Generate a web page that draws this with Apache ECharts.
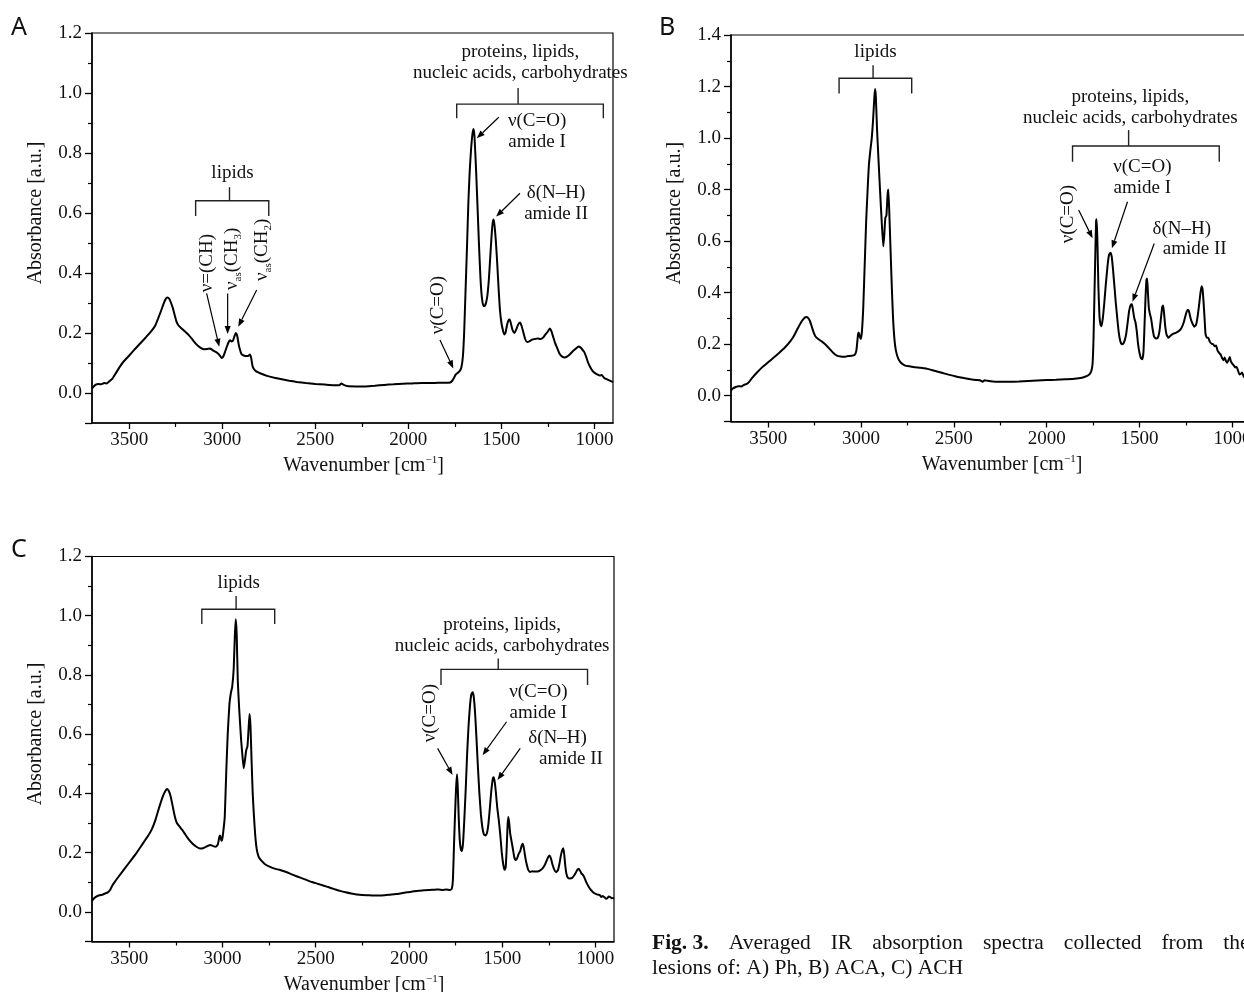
<!DOCTYPE html>
<html>
<head>
<meta charset="utf-8">
<title>Averaged IR absorption spectra</title>
<script src="https://cdn.jsdelivr.net/npm/echarts@6/dist/echarts.min.js"></script>
<style>
  html, body { margin: 0; padding: 0; background: #fff; }
  #chart { width: 1244px; height: 992px; }
</style>
</head>
<body>
<div id="chart"></div>
<script>
// spectra: [wavenumber cm-1, absorbance a.u.]
const spectrumA = [
    [3700, 0.015], [3690, 0.022], [3680, 0.028], [3665, 0.030], [3650, 0.029], [3635, 0.033],
    [3620, 0.032], [3605, 0.040], [3590, 0.048], [3570, 0.068], [3550, 0.088], [3530, 0.105],
    [3500, 0.125], [3470, 0.146], [3440, 0.166], [3410, 0.186], [3380, 0.207], [3360, 0.225],
    [3345, 0.248], [3330, 0.272], [3315, 0.298], [3305, 0.312], [3295, 0.318], [3285, 0.314],
    [3275, 0.300], [3265, 0.282], [3255, 0.258], [3245, 0.236], [3235, 0.225], [3220, 0.216],
    [3200, 0.205], [3180, 0.193], [3160, 0.178], [3140, 0.163], [3120, 0.152], [3100, 0.146],
    [3080, 0.147], [3065, 0.148], [3050, 0.142], [3035, 0.137], [3020, 0.130], [3010, 0.122],
    [3003, 0.117], [2995, 0.121], [2985, 0.137], [2975, 0.155], [2965, 0.170], [2958, 0.176],
    [2950, 0.172], [2942, 0.175], [2935, 0.188], [2927, 0.200], [2920, 0.192], [2912, 0.163],
    [2905, 0.145], [2897, 0.130], [2885, 0.125], [2870, 0.123], [2860, 0.124], [2852, 0.128],
    [2845, 0.118], [2838, 0.092], [2830, 0.080], [2815, 0.071], [2790, 0.064], [2760, 0.057],
    [2720, 0.051], [2680, 0.046], [2640, 0.041], [2600, 0.037], [2550, 0.033], [2500, 0.030],
    [2450, 0.028], [2400, 0.026], [2370, 0.026], [2360, 0.032], [2350, 0.028], [2330, 0.023],
    [2280, 0.022], [2230, 0.022], [2180, 0.024], [2130, 0.027], [2080, 0.029], [2030, 0.031],
    [1980, 0.032], [1930, 0.033], [1880, 0.033], [1840, 0.034], [1800, 0.034], [1775, 0.035],
    [1765, 0.040], [1755, 0.050], [1745, 0.062], [1737, 0.066], [1725, 0.072], [1715, 0.085],
    [1707, 0.120], [1700, 0.200], [1693, 0.330], [1685, 0.480], [1677, 0.640], [1670, 0.740],
    [1663, 0.810], [1656, 0.860], [1650, 0.880], [1645, 0.860], [1640, 0.800], [1635, 0.730],
    [1628, 0.620], [1620, 0.490], [1612, 0.380], [1605, 0.320], [1597, 0.290], [1590, 0.290],
    [1582, 0.302], [1575, 0.325], [1567, 0.380], [1560, 0.450], [1553, 0.520], [1547, 0.565],
    [1542, 0.578], [1537, 0.560], [1530, 0.510], [1522, 0.430], [1515, 0.350], [1508, 0.280],
    [1500, 0.235], [1492, 0.210], [1485, 0.195], [1478, 0.200], [1470, 0.225], [1462, 0.242],
    [1455, 0.245], [1448, 0.230], [1440, 0.210], [1430, 0.200], [1420, 0.212], [1410, 0.228],
    [1400, 0.235], [1392, 0.225], [1383, 0.205], [1372, 0.180], [1362, 0.170], [1350, 0.172],
    [1335, 0.178], [1320, 0.180], [1305, 0.182], [1290, 0.180], [1275, 0.185], [1262, 0.196],
    [1250, 0.205], [1240, 0.215], [1232, 0.208], [1222, 0.188], [1212, 0.168], [1200, 0.150],
    [1188, 0.132], [1175, 0.122], [1160, 0.118], [1145, 0.122], [1130, 0.130], [1115, 0.140],
    [1100, 0.148], [1085, 0.155], [1075, 0.152], [1065, 0.145], [1055, 0.137], [1045, 0.122],
    [1035, 0.103], [1022, 0.086], [1010, 0.074], [1000, 0.068], [985, 0.062], [970, 0.058],
    [960, 0.060], [950, 0.052], [935, 0.046], [920, 0.042], [905, 0.038], [900, 0.036]
];

const spectrumB = [
    [3700, 0.020], [3690, 0.028], [3675, 0.034], [3660, 0.037], [3645, 0.036], [3630, 0.042],
    [3615, 0.046], [3600, 0.056], [3585, 0.070], [3560, 0.090], [3530, 0.112], [3500, 0.130],
    [3470, 0.148], [3440, 0.167], [3410, 0.187], [3380, 0.212], [3360, 0.234], [3340, 0.262],
    [3320, 0.288], [3305, 0.302], [3295, 0.306], [3285, 0.302], [3275, 0.290], [3265, 0.268],
    [3255, 0.246], [3245, 0.230], [3230, 0.220], [3210, 0.210], [3190, 0.198], [3170, 0.183],
    [3150, 0.167], [3130, 0.156], [3110, 0.152], [3090, 0.151], [3070, 0.154], [3050, 0.155],
    [3035, 0.158], [3025, 0.175], [3016, 0.238], [3012, 0.245], [3006, 0.228], [3001, 0.220],
    [2995, 0.250], [2988, 0.340], [2980, 0.510], [2972, 0.680], [2965, 0.790], [2958, 0.890],
    [2950, 0.950], [2942, 1.000], [2935, 1.070], [2928, 1.160], [2924, 1.190], [2920, 1.160],
    [2914, 1.040], [2906, 0.920], [2897, 0.790], [2888, 0.670], [2880, 0.580], [2875, 0.620],
    [2869, 0.690], [2863, 0.700], [2857, 0.780], [2853, 0.800], [2848, 0.720], [2842, 0.590],
    [2835, 0.440], [2828, 0.310], [2820, 0.220], [2812, 0.175], [2800, 0.145], [2785, 0.128],
    [2765, 0.118], [2740, 0.114], [2710, 0.111], [2680, 0.109], [2650, 0.106], [2620, 0.100],
    [2590, 0.094], [2560, 0.088], [2530, 0.082], [2500, 0.077], [2470, 0.072], [2440, 0.068],
    [2410, 0.064], [2380, 0.061], [2360, 0.060], [2345, 0.054], [2335, 0.060], [2320, 0.058],
    [2290, 0.055], [2260, 0.054], [2230, 0.054], [2200, 0.054], [2150, 0.055], [2100, 0.057],
    [2050, 0.059], [2000, 0.061], [1950, 0.062], [1900, 0.064], [1850, 0.066], [1810, 0.070],
    [1785, 0.076], [1770, 0.083], [1760, 0.095], [1753, 0.125], [1748, 0.220], [1743, 0.390],
    [1738, 0.560], [1734, 0.680], [1731, 0.685], [1727, 0.600], [1722, 0.430], [1716, 0.310],
    [1710, 0.275], [1705, 0.270], [1698, 0.300], [1690, 0.360], [1682, 0.430], [1673, 0.500],
    [1665, 0.545], [1657, 0.555], [1650, 0.540], [1643, 0.490], [1636, 0.430], [1628, 0.360],
    [1620, 0.300], [1612, 0.245], [1604, 0.212], [1596, 0.200], [1588, 0.202], [1580, 0.215],
    [1572, 0.240], [1564, 0.285], [1556, 0.330], [1548, 0.352], [1541, 0.355], [1535, 0.330],
    [1528, 0.300], [1522, 0.285], [1515, 0.250], [1508, 0.200], [1500, 0.165], [1492, 0.145],
    [1485, 0.142], [1479, 0.170], [1474, 0.260], [1468, 0.380], [1463, 0.450], [1459, 0.455],
    [1455, 0.400], [1450, 0.340], [1445, 0.320], [1438, 0.300], [1430, 0.260], [1422, 0.230],
    [1412, 0.222], [1402, 0.225], [1393, 0.250], [1385, 0.300], [1378, 0.345], [1373, 0.350],
    [1368, 0.320], [1362, 0.270], [1355, 0.238], [1345, 0.225], [1335, 0.232], [1320, 0.240],
    [1305, 0.244], [1290, 0.250], [1275, 0.262], [1262, 0.285], [1250, 0.318], [1242, 0.333],
    [1235, 0.330], [1225, 0.300], [1215, 0.280], [1205, 0.268], [1196, 0.275], [1188, 0.305],
    [1180, 0.350], [1172, 0.400], [1166, 0.425], [1161, 0.415], [1156, 0.370], [1150, 0.300],
    [1145, 0.240], [1138, 0.225], [1130, 0.225], [1122, 0.210], [1112, 0.202], [1104, 0.200],
    [1096, 0.192], [1088, 0.195], [1080, 0.175], [1070, 0.165], [1062, 0.158], [1055, 0.145],
    [1048, 0.138], [1042, 0.148], [1035, 0.135], [1028, 0.128], [1020, 0.140], [1014, 0.150],
    [1008, 0.132], [1000, 0.124], [993, 0.118], [985, 0.110], [978, 0.112], [970, 0.098],
    [962, 0.082], [955, 0.085], [948, 0.090], [940, 0.076], [932, 0.070], [920, 0.072],
    [910, 0.066], [900, 0.070]
];

const spectrumC = [
    [3700, 0.037], [3690, 0.045], [3675, 0.052], [3660, 0.056], [3645, 0.058], [3630, 0.062],
    [3615, 0.066], [3605, 0.072], [3590, 0.090], [3575, 0.104], [3550, 0.125], [3520, 0.150],
    [3490, 0.175], [3460, 0.200], [3430, 0.228], [3400, 0.256], [3380, 0.278], [3360, 0.310],
    [3340, 0.352], [3320, 0.390], [3305, 0.410], [3297, 0.415], [3288, 0.408], [3278, 0.390],
    [3265, 0.350], [3255, 0.320], [3245, 0.300], [3230, 0.288], [3215, 0.276], [3200, 0.262],
    [3180, 0.244], [3160, 0.230], [3140, 0.220], [3120, 0.214], [3105, 0.215], [3085, 0.221],
    [3065, 0.226], [3050, 0.222], [3035, 0.220], [3025, 0.228], [3016, 0.255], [3012, 0.258],
    [3006, 0.240], [3002, 0.243], [2996, 0.270], [2988, 0.320], [2980, 0.470], [2972, 0.600],
    [2963, 0.700], [2955, 0.740], [2948, 0.760], [2940, 0.820], [2934, 0.930], [2929, 0.988],
    [2924, 0.940], [2918, 0.780], [2910, 0.680], [2900, 0.580], [2892, 0.520], [2886, 0.485],
    [2880, 0.510], [2873, 0.545], [2866, 0.560], [2860, 0.620], [2855, 0.668], [2850, 0.630],
    [2844, 0.510], [2838, 0.400], [2831, 0.320], [2824, 0.255], [2816, 0.210], [2806, 0.186],
    [2790, 0.172], [2770, 0.160], [2745, 0.152], [2720, 0.146], [2695, 0.142], [2670, 0.137],
    [2640, 0.130], [2610, 0.122], [2580, 0.115], [2550, 0.108], [2520, 0.101], [2490, 0.095],
    [2460, 0.089], [2430, 0.083], [2400, 0.077], [2370, 0.071], [2340, 0.066], [2310, 0.062],
    [2280, 0.059], [2250, 0.057], [2220, 0.056], [2190, 0.055], [2160, 0.055], [2130, 0.056],
    [2100, 0.058], [2070, 0.060], [2040, 0.063], [2010, 0.066], [1980, 0.069], [1950, 0.071],
    [1920, 0.073], [1890, 0.074], [1860, 0.075], [1840, 0.076], [1820, 0.074], [1800, 0.076],
    [1780, 0.074], [1770, 0.078], [1764, 0.110], [1758, 0.230], [1752, 0.340], [1747, 0.420],
    [1742, 0.465], [1738, 0.420], [1733, 0.320], [1727, 0.240], [1721, 0.210], [1716, 0.205],
    [1710, 0.230], [1703, 0.310], [1695, 0.420], [1688, 0.530], [1680, 0.630], [1672, 0.700],
    [1665, 0.735], [1658, 0.742], [1652, 0.725], [1645, 0.670], [1638, 0.590], [1630, 0.490],
    [1622, 0.400], [1614, 0.330], [1606, 0.285], [1598, 0.262], [1590, 0.258], [1582, 0.265],
    [1574, 0.295], [1566, 0.350], [1558, 0.410], [1550, 0.450], [1546, 0.455], [1540, 0.440],
    [1533, 0.400], [1526, 0.350], [1518, 0.310], [1510, 0.260], [1502, 0.200], [1494, 0.160],
    [1487, 0.142], [1481, 0.150], [1476, 0.210], [1471, 0.290], [1467, 0.320], [1462, 0.300],
    [1457, 0.265], [1450, 0.240], [1443, 0.215], [1435, 0.185], [1428, 0.175], [1420, 0.180],
    [1412, 0.195], [1403, 0.205], [1396, 0.222], [1390, 0.230], [1384, 0.218], [1376, 0.185],
    [1368, 0.160], [1360, 0.142], [1350, 0.135], [1338, 0.137], [1325, 0.136], [1310, 0.136],
    [1296, 0.140], [1282, 0.148], [1270, 0.160], [1260, 0.175], [1252, 0.186], [1245, 0.190],
    [1238, 0.180], [1230, 0.160], [1220, 0.142], [1210, 0.134], [1200, 0.142], [1192, 0.165],
    [1185, 0.190], [1178, 0.208], [1172, 0.215], [1167, 0.195], [1162, 0.160], [1155, 0.128],
    [1147, 0.115], [1135, 0.113], [1125, 0.115], [1115, 0.122], [1105, 0.132], [1097, 0.142],
    [1090, 0.146], [1083, 0.140], [1075, 0.130], [1066, 0.124], [1058, 0.115], [1050, 0.102],
    [1042, 0.092], [1034, 0.083], [1025, 0.075], [1015, 0.068], [1005, 0.063], [995, 0.060],
    [985, 0.058], [975, 0.056], [968, 0.050], [960, 0.054], [950, 0.049], [942, 0.044],
    [935, 0.047], [928, 0.052], [920, 0.050], [912, 0.046], [905, 0.047], [900, 0.045]
];

// axis ticks
const xTicks = [3500, 3000, 2500, 2000, 1500, 1000];
const xMinorTicks = [3250, 2750, 2250, 1750, 1250];
const yTicksA = [0, 0.2, 0.4, 0.6, 0.8, 1.0, 1.2];
const yTicksB = [0, 0.2, 0.4, 0.6, 0.8, 1.0, 1.2, 1.4];
const yMinorTicksA = [0.1, 0.3, 0.5, 0.7, 0.9, 1.1];
const yMinorTicksB = [0.1, 0.3, 0.5, 0.7, 0.9, 1.1, 1.3];

// annotations in data units (wavenumber, absorbance)
// bracket: [left, right, bar, feet, stem, stemTop]
const bracketsA = [[3143, 2750, 0.641, 0.590, 2961, 0.686], [1740, 952, 0.963, 0.916, 1410, 1.017]];
const bracketsB = [[3118, 2727, 1.232, 1.173, 2935, 1.283], [1861, 1071, 0.969, 0.908, 1559, 1.031]];
const bracketsC = [[3111, 2720, 1.022, 0.972, 2927, 1.067], [1828, 1042, 0.819, 0.766, 1521, 0.856]];

// arrow: [fromX, fromY, toX, toY]
const arrowsA = [
    [3084, 0.332, 3016, 0.154], [2971, 0.332, 2971, 0.197], [2815, 0.343, 2914, 0.221],
    [1514, 0.919, 1632, 0.849], [1400, 0.666, 1528, 0.588], [1830, 0.177, 1758, 0.082]
];
const arrowsB = [[1565, 0.753, 1649, 0.572], [1421, 0.591, 1538, 0.365], [1828, 0.721, 1753, 0.611]];
const arrowsC = [[1476, 0.642, 1605, 0.529], [1403, 0.552, 1525, 0.445], [1846, 0.552, 1766, 0.462]];

const labelsA = [
    { text: "lipids", at: [2945, 0.733] },
    { text: "proteins, lipids,\nnucleic acids, carbohydrates", at: [1398, 1.102] },
    { text: "ν(C=O)\namide I", at: [1308, 0.872] },
    { text: "δ(N–H)\namide II", at: [1206, 0.633] },
    { text: "ν(C=O)", at: [1839, 0.293], vertical: true },
    { text: "ν=(CH)", at: [3080, 0.433], vertical: true },
    { text: "{n|ν}{s|as}{n|(CH}{s|3}{n|)}", at: [2948, 0.447], vertical: true },
    { text: "{n|ν}{s|as}{n|(CH}{s|2}{n|)}", at: [2787, 0.477], vertical: true }
];
const labelsB = [
    { text: "lipids", at: [2922, 1.335] },
    { text: "proteins, lipids,\nnucleic acids, carbohydrates", at: [1550, 1.120] },
    { text: "ν(C=O)\namide I", at: [1485, 0.845] },
    { text: "δ(N–H)", at: [1273, 0.646] },
    { text: "amide II", at: [1203, 0.569] },
    { text: "ν(C=O)", at: [1884, 0.705], vertical: true }
];
const labelsC = [
    { text: "lipids", at: [2913, 1.111] },
    { text: "proteins, lipids,\nnucleic acids, carbohydrates", at: [1500, 0.932] },
    { text: "ν(C=O)\namide I", at: [1306, 0.708] },
    { text: "δ(N–H)", at: [1203, 0.586] },
    { text: "amide II", at: [1131, 0.516] },
    { text: "ν(C=O)", at: [1885, 0.671], vertical: true }
];

const captionWords = ["Averaged", "IR", "absorption", "spectra", "collected", "from", "the"];
const captionLine2 = "lesions of: A) Ph, B) ACA, C) ACH";

const SERIF = "'Liberation Serif', 'DejaVu Serif', serif";
const INK = "#111";

const panels = [
    { spectrum: spectrumA, yMax: 1.2, yTicks: yTicksA, yMinor: yMinorTicksA,
      grid: { left: 92, top: 33, width: 521, height: 390 },
      brackets: bracketsA, arrows: arrowsA, labels: labelsA },
    { spectrum: spectrumB, yMax: 1.4, yTicks: yTicksB, yMinor: yMinorTicksB,
      grid: { left: 731, top: 35, width: 520, height: 386.5 },
      brackets: bracketsB, arrows: arrowsB, labels: labelsB },
    { spectrum: spectrumC, yMax: 1.2, yTicks: yTicksA, yMinor: yMinorTicksA,
      grid: { left: 92, top: 556.5, width: 522, height: 385 },
      brackets: bracketsC, arrows: arrowsC, labels: labelsC }
];

function arrowHead(from, to, size) {
    const dx = to[0] - from[0];
    const dy = to[1] - from[1];
    const len = Math.hypot(dx, dy) || 1;
    const ux = dx / len, uy = dy / len;
    const bx = to[0] - ux * size, by = to[1] - uy * size;
    const w = size * 0.38;
    return { base: [bx, by], points: [[to[0], to[1]], [bx - uy * w, by + ux * w], [bx + uy * w, by - ux * w]] };
}

function renderAnnotations(panel) {
    return (params, api) => {
        const children = [];
        const line = { stroke: "#222", lineWidth: 1.4, fill: null };

        panel.brackets.forEach(([left, right, bar, feet, stem, top]) => {
            children.push({
                type: "polyline",
                shape: { points: [api.coord([left, feet]), api.coord([left, bar]), api.coord([right, bar]), api.coord([right, feet])] },
                style: line
            });
            const a = api.coord([stem, bar]);
            const b = api.coord([stem, top]);
            children.push({ type: "line", shape: { x1: a[0], y1: a[1], x2: b[0], y2: b[1] }, style: line });
        });

        panel.arrows.forEach(([x0, y0, x1, y1]) => {
            const from = api.coord([x0, y0]);
            const to = api.coord([x1, y1]);
            const head = arrowHead(from, to, 8);
            children.push({
                type: "line",
                shape: { x1: from[0], y1: from[1], x2: head.base[0], y2: head.base[1] },
                style: { stroke: "#000", lineWidth: 1.2 }
            });
            children.push({ type: "polygon", shape: { points: head.points }, style: { fill: "#000" } });
        });

        panel.labels.forEach((label) => {
            const p = api.coord(label.at);
            children.push({
                type: "text",
                x: p[0],
                y: p[1],
                rotation: label.vertical ? Math.PI / 2 : 0,
                style: {
                    text: label.text,
                    fontFamily: SERIF,
                    fontSize: 19,
                    lineHeight: 21,
                    fill: INK,
                    align: "center",
                    verticalAlign: "middle",
                    rich: {
                        n: { fontFamily: SERIF, fontSize: 19, lineHeight: 24, fill: INK },
                        s: { fontFamily: SERIF, fontSize: 11, lineHeight: 11, verticalAlign: "bottom", fill: INK }
                    }
                }
            });
        });

        return { type: "group", children };
    };
}

function buildOption() {
    const grid = [];
    const xAxis = [];
    const yAxis = [];
    const series = [];

    panels.forEach((panel, i) => {
        grid.push({
            ...panel.grid,
            outerBoundsMode: "none",
            containLabel: false,
            show: true,
            borderColor: "#000",
            borderWidth: 1.2,
            backgroundColor: "transparent"
        });

        const xBase = { type: "value", gridIndex: i, min: 900, max: 3700, inverse: true, splitLine: { show: false } };
        const yBase = { type: "value", gridIndex: i, min: -0.1, max: panel.yMax, splitLine: { show: false } };

        xAxis.push({
            ...xBase,
            position: "bottom",
            axisLine: { show: true, onZero: false, lineStyle: { color: "#000", width: 1.5 } },
            axisTick: { show: true, length: 6, customValues: xTicks, lineStyle: { color: "#000", width: 1.3 } },
            axisLabel: {
                show: true,
                customValues: xTicks,
                color: INK,
                fontFamily: SERIF,
                fontSize: 19,
                margin: 8,
                formatter: (v) => String(v)
            },
            name: "{n|Wavenumber [cm}{sup|−1}{n|]}",
            nameLocation: "middle",
            nameGap: 32,
            nameTextStyle: {
                color: INK,
                padding: [0, 0, 0, 22],
                rich: {
                    n: { fontFamily: SERIF, fontSize: 20, color: INK, lineHeight: 22 },
                    sup: { fontFamily: SERIF, fontSize: 11, color: INK, lineHeight: 11, verticalAlign: "top" }
                }
            }
        });
        xAxis.push({
            ...xBase,
            position: "bottom",
            axisLine: { show: false, onZero: false },
            axisTick: { show: true, length: 4, customValues: xMinorTicks, lineStyle: { color: "#000", width: 1.2 } },
            axisLabel: { show: false }
        });

        yAxis.push({
            ...yBase,
            position: "left",
            axisLine: { show: true, onZero: false, lineStyle: { color: "#000", width: 1.5 } },
            axisTick: { show: true, length: 7, customValues: [-0.1, ...panel.yTicks], lineStyle: { color: "#000", width: 1.3 } },
            axisLabel: {
                show: true,
                customValues: panel.yTicks,
                color: INK,
                fontFamily: SERIF,
                fontSize: 19,
                margin: 10,
                formatter: (v) => v.toFixed(1)
            },
            name: "Absorbance [a.u.]",
            nameLocation: "middle",
            nameGap: 46,
            nameTextStyle: { color: INK, fontFamily: SERIF, fontSize: 20, padding: [0, 0, 0, 30] }
        });
        yAxis.push({
            ...yBase,
            position: "left",
            axisLine: { show: false, onZero: false },
            axisTick: { show: true, length: 4, customValues: panel.yMinor, lineStyle: { color: "#000", width: 1.2 } },
            axisLabel: { show: false }
        });

        series.push({
            type: "line",
            xAxisIndex: i * 2,
            yAxisIndex: i * 2,
            data: panel.spectrum,
            showSymbol: false,
            smooth: 0.15,
            lineStyle: { color: "#000", width: 2 },
            clip: true,
            silent: true,
            z: 3
        });
        series.push({
            type: "custom",
            xAxisIndex: i * 2,
            yAxisIndex: i * 2,
            data: [[2300, 0.5]],
            renderItem: renderAnnotations(panel),
            silent: true,
            z: 4
        });
    });

    const letter = { fill: "#111", fontFamily: "'Noto Sans', 'Open Sans', sans-serif", fontSize: 25 };
    // first caption line is justified in the original, so words sit on wider gaps
    const line1 = "{b|Fig. 3.}{g| }" + captionWords.join("{g| }");

    return {
        backgroundColor: "#fff",
        animation: false,
        grid,
        xAxis,
        yAxis,
        series,
        graphic: [
            { type: "text", left: 11, top: 15, style: { ...letter, text: "A" } },
            { type: "text", left: 659, top: 15, style: { ...letter, text: "B" } },
            { type: "text", left: 11, top: 537, style: { ...letter, text: "C" } },
            {
                type: "text",
                left: 652,
                top: 931,
                style: {
                    text: line1 + "\n" + captionLine2,
                    fill: "#111",
                    fontFamily: SERIF,
                    fontSize: 21.5,
                    lineHeight: 25,
                    rich: {
                        b: { fontFamily: SERIF, fontSize: 21.5, fontWeight: "bold", fill: "#111", lineHeight: 25 },
                        g: { fontFamily: SERIF, fontSize: 21.5, width: 20, lineHeight: 25 }
                    }
                }
            }
        ]
    };
}

const chart = echarts.init(document.getElementById("chart"), null, { renderer: "canvas" });
chart.setOption(buildOption());
window.addEventListener("resize", () => chart.resize());
</script>
</body>
</html>
